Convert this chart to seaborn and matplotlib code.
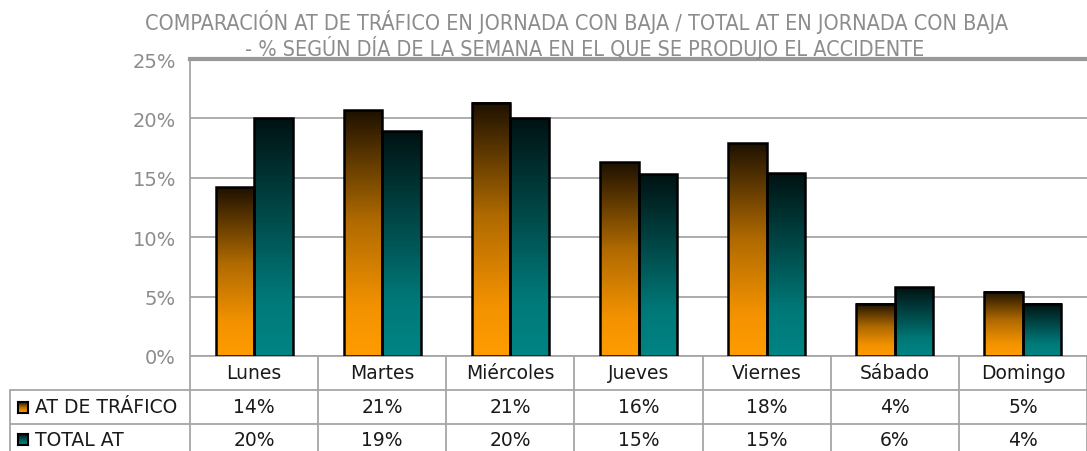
import numpy as np
import pandas as pd
import matplotlib
matplotlib.use("Agg")
import matplotlib.pyplot as plt
import matplotlib.transforms as mtransforms
from matplotlib.colors import LinearSegmentedColormap
from matplotlib.lines import Line2D
import seaborn as sns

# === data ===
days = ["Lunes", "Martes", "Miércoles", "Jueves", "Viernes", "Sábado", "Domingo"]
series_names = ["AT DE TRÁFICO", "TOTAL AT"]
at_trafico = [14.2, 20.7, 21.3, 16.3, 17.9, 4.4, 5.4]
total_at = [20.0, 18.9, 20.0, 15.3, 15.4, 5.8, 4.4]
y_ticks = [0, 5, 10, 15, 20, 25]
title_1 = "COMPARACIÓN AT DE TRÁFICO EN JORNADA CON BAJA / TOTAL AT EN JORNADA CON BAJA"
title_2 = "- % SEGÚN DÍA DE LA SEMANA EN EL QUE SE PRODUJO EL ACCIDENTE"

df = pd.DataFrame({
    "Día": days * 2,
    "Serie": [series_names[0]] * len(days) + [series_names[1]] * len(days),
    "Valor": at_trafico + total_at,
})

# gradient colormaps (bottom -> top)
cmap_orange = LinearSegmentedColormap.from_list(
    "orange", [(0, "#FF9C00"), (0.2, "#F39200"), (0.55, "#B06A00"), (1, "#1E1100")])
cmap_teal = LinearSegmentedColormap.from_list(
    "teal", [(0, "#008484"), (0.25, "#007878"), (0.6, "#004848"), (1, "#001212")])
cmaps = [cmap_orange, cmap_teal]

W, H = 1087, 452
fig = plt.figure(figsize=(W / 100, H / 100), dpi=100)
sns.set_style("white")
plt.rcParams["font.family"] = ["DejaVu Sans"]

grid_c = "#A6A6A6"
ax = fig.add_axes([190 / W, (H - 357) / H, 897 / W, 297 / H])

sns.barplot(data=df, x="Día", y="Valor", hue="Serie", hue_order=series_names,
            order=days, width=0.6, legend=False, ax=ax, zorder=3)

# gradient fill inside each bar
grad = np.linspace(0, 1, 256).reshape(-1, 1)
for cont, cm in zip(ax.containers, cmaps):
    for p in cont.patches:
        x0, w, h = p.get_x(), p.get_width(), p.get_height()
        ax.imshow(grad, extent=[x0, x0 + w, 0, h], origin="lower",
                  aspect="auto", cmap=cm, zorder=2)
        p.set_facecolor("none")
        p.set_edgecolor("black")
        p.set_linewidth(1.8)

ax.set_xlim(-0.5, 6.5)
ax.set_ylim(0, 25)
ax.set_yticks(y_ticks)
ax.set_yticklabels([f"{t}%" for t in y_ticks])
ax.yaxis.grid(True, color=grid_c, lw=1.3, zorder=0)
ax.set_axisbelow(True)
ax.set_xticks([])
ax.set_xlabel("")
ax.set_ylabel("")
ax.tick_params(axis="y", length=6, width=1.2, color=grid_c, labelcolor="#8C8C8C",
               labelsize=14, pad=4)
for s in ["left", "bottom"]:
    ax.spines[s].set_color(grid_c)
    ax.spines[s].set_linewidth(1.3)
ax.spines["top"].set_color("#999999")
ax.spines["top"].set_linewidth(3)
ax.spines["right"].set_visible(False)

# === data table below the chart ===
row_h = 34 / 297
blend = mtransforms.blended_transform_factory(ax.transData, ax.transAxes)
left_edge = (10 - 190) / 897
bottom = -0.4

# vertical separators
for i in range(len(days) + 1):
    ax.add_line(Line2D([i - 0.5, i - 0.5], [0, bottom], transform=blend,
                       color=grid_c, lw=1.3, clip_on=False))
ax.add_line(Line2D([left_edge, left_edge], [-row_h, bottom], transform=ax.transAxes,
                   color=grid_c, lw=1.3, clip_on=False))
# horizontal separators
for k in (1, 2):
    ax.add_line(Line2D([left_edge, 1.0], [-k * row_h, -k * row_h], transform=ax.transAxes,
                       color=grid_c, lw=1.3, clip_on=False))

txt_kw = dict(fontsize=13.5, color="#1A1A1A", ha="center", va="center", clip_on=False)
for i, d in enumerate(days):
    ax.text(i, -0.5 * row_h, d, transform=blend, **txt_kw)
    ax.text(i, -1.5 * row_h, f"{at_trafico[i]:.0f}%", transform=blend, **txt_kw)
    ax.text(i, -2.45 * row_h, f"{total_at[i]:.0f}%", transform=blend, **txt_kw)

row_y = [-1.5 * row_h, -2.45 * row_h]
for name, yy, cm in zip(series_names, row_y, cmaps):
    ax.text(left_edge + 25 / 897, yy, name, transform=ax.transAxes, fontsize=13.5,
            color="#1A1A1A", ha="left", va="center", clip_on=False)
    # legend key
    y_px = 357 - yy * 297
    kax = fig.add_axes([18 / W, (H - y_px - 6) / H, 10 / W, 11 / H])
    kax.imshow(grad, origin="lower", aspect="auto", cmap=cm)
    kax.set_xticks([])
    kax.set_yticks([])
    for s in kax.spines.values():
        s.set_color("black")
        s.set_linewidth(1.5)

# === title ===
fig.text(577 / W, 1 - 22 / H, title_1, ha="center", va="center", fontsize=15.5,
         color="#8C8C8C", fontstretch="condensed")
fig.text(585 / W, 1 - 48 / H, title_2, ha="center", va="center", fontsize=15.5,
         color="#8C8C8C", fontstretch="condensed")

fig.savefig("out.png", dpi=100)
